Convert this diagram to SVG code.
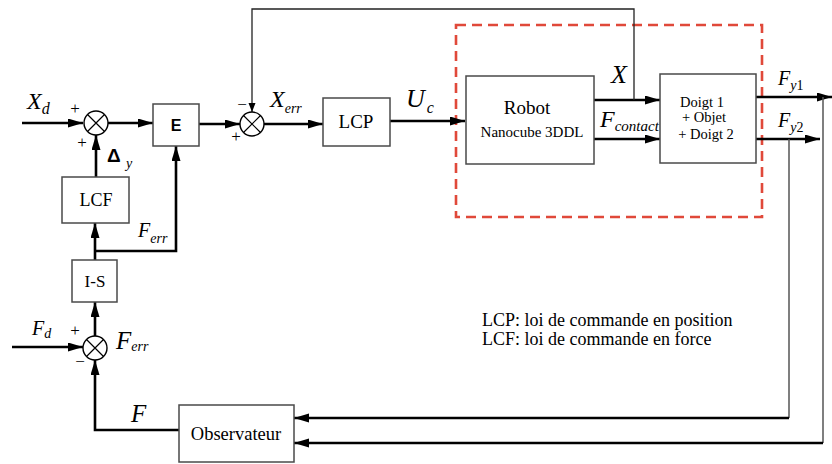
<svg xmlns="http://www.w3.org/2000/svg" width="832" height="464" viewBox="0 0 832 464">
<defs>
<marker id="ah" markerUnits="userSpaceOnUse" markerWidth="16" markerHeight="10" refX="15" refY="4.5" orient="auto"><path d="M0,0 L15,4.5 L0,9 Z" fill="#000"/></marker>
<marker id="ahs" markerUnits="userSpaceOnUse" markerWidth="10" markerHeight="8" refX="9" refY="3.5" orient="auto"><path d="M0,0 L9,3.5 L0,7 Z" fill="#000"/></marker>
</defs>
<style>
.box{fill:#fff;stroke:#4a4a4a;stroke-width:1.5}
.sum{fill:#fff;stroke:#000;stroke-width:1.4}
.x{stroke:#000;stroke-width:1.2}
.w{fill:none;stroke:#000;stroke-width:2.6}
.wa{fill:none;stroke:#000;stroke-width:2.6;marker-end:url(#ah)}
.ta{fill:none;stroke:#222;stroke-width:1.3;marker-end:url(#ahs)}
.tg{fill:none;stroke:#555;stroke-width:1.5}
.dash{fill:none;stroke:#e0493a;stroke-width:2.6;stroke-dasharray:10 6}
text{font-family:"Liberation Serif","Times New Roman",serif;fill:#000}
.c{text-anchor:middle}
.i{font-style:italic}
.sg{font-size:17px;text-anchor:middle}
</style>

<rect id="zone" class="dash" x="456" y="25" width="306" height="192"/>

<g id="connectors">
<path class="wa" d="M22,123 H83"/>
<path class="wa" d="M108,123 H153"/>
<path class="wa" d="M199,124 H240"/>
<path class="wa" d="M264,124 H323"/>
<path class="wa" d="M390,121 H465"/>
<path class="wa" d="M594,100 H660"/>
<path class="wa" d="M594,139 H660"/>
<path class="wa" d="M756,97 H832"/>
<path class="wa" d="M756,139 H820"/>
<path class="ta" d="M634,100 V9 H252 V112"/>
<path class="wa" d="M96,177 V135"/>
<path class="wa" d="M95,260 V223"/>
<path class="wa" d="M95,251 H176 V146"/>
<path class="wa" d="M95,336 V302"/>
<path class="wa" d="M12,347 H83"/>
<path class="wa" d="M179,430 H95 V360"/>
<path class="tg" d="M789,139 V418"/>
<path class="wa" d="M789,418 H294"/>
<path class="tg" d="M823,97 V443"/>
<path class="wa" d="M823,443 H294"/>
</g>

<g id="sum1">
<circle class="sum" cx="96" cy="123" r="12"/>
<path class="x" d="M87.5,114.5 L104.5,131.5 M104.5,114.5 L87.5,131.5"/>
<text class="sg" x="75" y="114">+</text>
<text class="sg" x="82" y="148">+</text>
</g>

<g id="sum2">
<circle class="sum" cx="252" cy="124" r="12"/>
<path class="x" d="M243.5,115.5 L260.5,132.5 M260.5,115.5 L243.5,132.5"/>
<text class="sg" x="242" y="110">−</text>
<text class="sg" x="236" y="142">+</text>
</g>

<g id="sum3">
<circle class="sum" cx="95" cy="348" r="12"/>
<path class="x" d="M86.5,339.5 L103.5,356.5 M103.5,339.5 L86.5,356.5"/>
<text class="sg" x="75" y="336">+</text>
<text class="sg" x="80" y="367">−</text>
</g>

<g id="E">
<rect class="box" x="153" y="104" width="46" height="42"/>
<text class="c" x="176" y="131" style="font-family:'Liberation Sans',Arial,sans-serif;font-weight:bold;font-size:16px">E</text>
</g>

<g id="LCF">
<rect class="box" x="62" y="177" width="67" height="46"/>
<text class="c" x="96" y="206" font-size="18">LCF</text>
</g>

<g id="IS">
<rect class="box" x="72" y="260" width="45" height="42"/>
<text class="c" x="95" y="287" font-size="17">I-S</text>
</g>

<g id="LCP">
<rect class="box" x="323" y="98" width="67" height="48"/>
<text class="c" x="356" y="128" font-size="19">LCP</text>
</g>

<g id="robot">
<rect class="box" x="466" y="76" width="128" height="88"/>
<text class="c" x="527" y="114" font-size="19">Robot</text>
<text class="c" x="532" y="137" font-size="15">Nanocube 3DDL</text>
</g>

<g id="doigt">
<rect class="box" x="660" y="74" width="96" height="89"/>
<text class="c" x="702" y="107" font-size="14.5">Doigt 1</text>
<text class="c" x="704" y="122" font-size="14.5">+ Objet</text>
<text class="c" x="706" y="139" font-size="14.5">+ Doigt 2</text>
</g>

<g id="observateur">
<rect class="box" x="179" y="405" width="115" height="57"/>
<text class="c" x="236" y="440" font-size="18.5">Observateur</text>
</g>

<g id="labels">
<text class="i" x="27" y="109" font-size="24">X<tspan font-size="16" dy="5">d</tspan></text>
<text x="107" y="162" style="font-family:'Liberation Sans',Arial,sans-serif;font-weight:bold;font-size:19px">Δ</text>
<text class="i" x="126" y="168" font-size="14">y</text>
<text class="i" x="270" y="107" font-size="24">X<tspan font-size="14" dy="6">err</tspan></text>
<text class="i" x="406" y="107" font-size="26">U<tspan font-size="16" dy="6" dx="2">c</tspan></text>
<text class="i" x="611" y="83" font-size="26">X</text>
<text class="i" x="600" y="127" font-size="24">F<tspan font-size="15" dy="4">contact</tspan></text>
<text class="i" x="778" y="85" font-size="20">F<tspan font-size="14" dy="5">y</tspan><tspan font-style="normal" font-size="14">1</tspan></text>
<text class="i" x="778" y="127" font-size="20">F<tspan font-size="14" dy="5">y</tspan><tspan font-style="normal" font-size="14">2</tspan></text>
<text class="i" x="138" y="237" font-size="20">F<tspan font-size="14" dy="6">err</tspan></text>
<text class="i" x="116" y="349" font-size="25">F<tspan font-size="14" dy="2">err</tspan></text>
<text class="i" x="32" y="335" font-size="20">F<tspan font-size="14" dy="3">d</tspan></text>
<text class="i" x="131" y="422" font-size="25">F</text>
</g>

<g id="legend">
<text x="482" y="326" font-size="18">LCP: loi de commande en position</text>
<text x="482" y="345" font-size="18">LCF: loi de commande en force</text>
</g>
</svg>
